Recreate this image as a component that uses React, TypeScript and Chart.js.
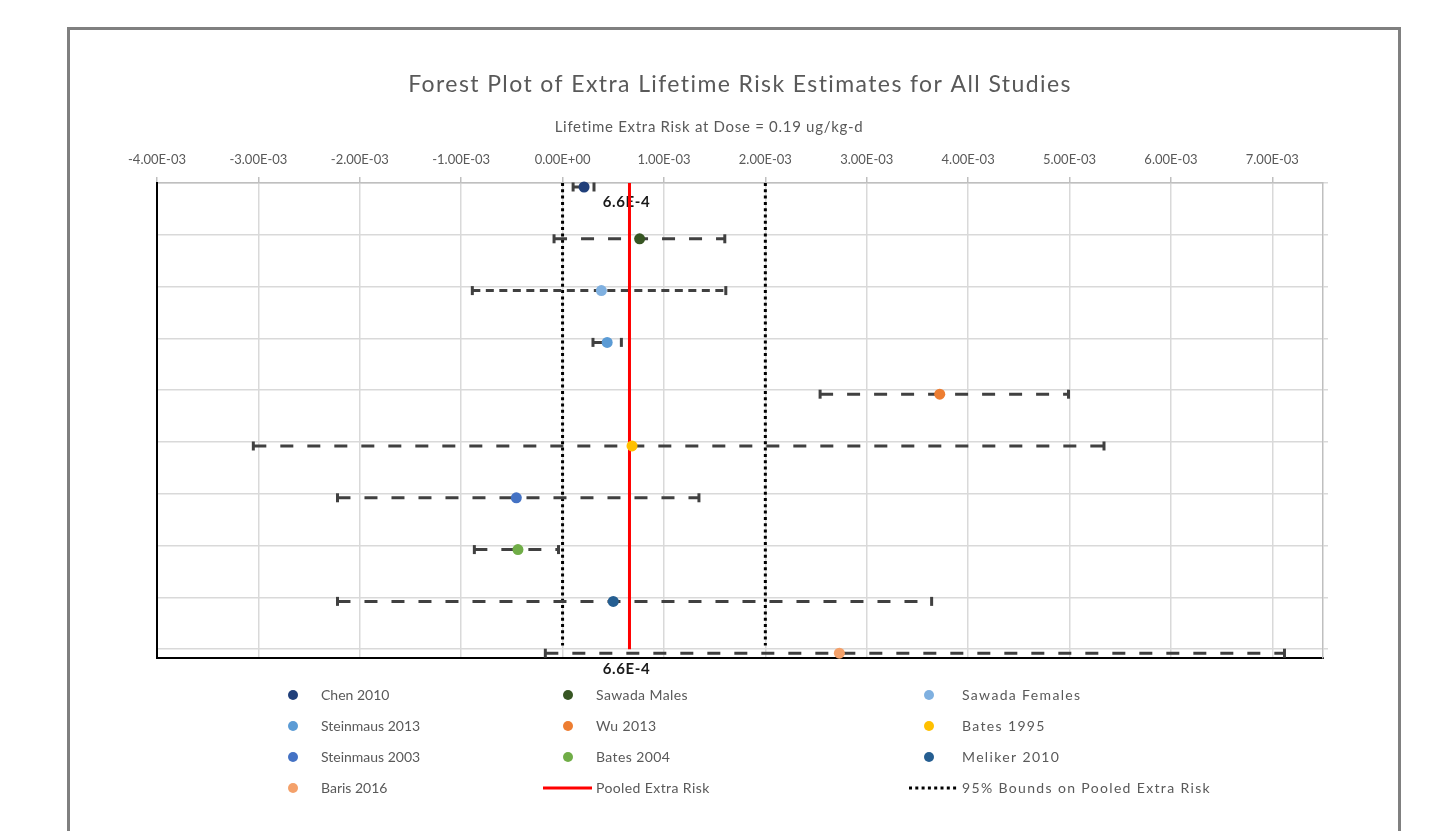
import React, { useEffect, useRef } from 'react';
import { Chart, registerables } from 'chart.js';

Chart.register(...registerables);

const chartTitle = 'Forest Plot of Extra Lifetime Risk Estimates for All Studies';
const axisTitle = 'Lifetime Extra Risk at Dose = 0.19 ug/kg-d';

const studies = [
  'Chen 2010',
  'Sawada Males',
  'Sawada Females',
  'Steinmaus 2013',
  'Wu 2013',
  'Bates 1995',
  'Steinmaus 2003',
  'Bates 2004',
  'Meliker 2010',
  'Baris 2016',
];
const estimates = [0.000212, 0.00076, 0.000383, 0.00044, 0.00372, 0.000685, -0.000456, -0.00044, 0.0005, 0.00273];
const lowerCI = [0.000104, -0.000084, -0.00089, 0.0003, 0.00254, -0.00305, -0.00222, -0.00087, -0.00222, -0.00017];
const upperCI = [0.00031, 0.0016, 0.00161, 0.00058, 0.00499, 0.00534, 0.001345, -0.00004, 0.00364, 0.00712];

const studyColors = [
  '#203f7a',
  '#375623',
  '#7fb0e0',
  '#5b9bd5',
  '#ed7d31',
  '#ffc000',
  '#4472c4',
  '#70ad47',
  '#255e91',
  '#f4a16a',
];

const pooledEstimate = 0.00066;
const pooledText = '6.6E-4';
const pooledName = 'Pooled Extra Risk';
const pooledBounds = [0.0, 0.002];
const boundsName = '95% Bounds on Pooled Extra Risk';

const xTickValues = [-0.004, -0.003, -0.002, -0.001, 0, 0.001, 0.002, 0.003, 0.004, 0.005, 0.006, 0.007];
const xTickLabels = [
  '-4.00E-03', '-3.00E-03', '-2.00E-03', '-1.00E-03', '0.00E+00', '1.00E-03',
  '2.00E-03', '3.00E-03', '4.00E-03', '5.00E-03', '6.00E-03', '7.00E-03',
];

// layout / style constants
const X_MIN = -0.004;
const X_MAX = 0.0075;
const Y_MIN = -0.077;
const Y_MAX = 9.093;
const GRID_COLOR = '#d9d9d9';
const TEXT_COLOR = '#595959';
const FONT = 'Lato, "Open Sans", sans-serif';
const BAR_COLOR = '#404040';

const gridRows = studies.map((_, i) => i + Y_MIN);
const lineTop = Y_MIN;
const lineBottom = studies.length - 1 + Y_MIN;

const legendRowsY = [695, 726, 757, 788];
const legendMarkerX = [293, 568, 929];
const legendTextX = [321, 596, 962];
const legendSpacing = [0, 0.4, 1.35];

function drawText(ctx: any, text: string, x: number, y: number, font: string, spacing: number, align: string) {
  ctx.font = font;
  ctx.textAlign = align;
  ctx.textBaseline = 'middle';
  if ('letterSpacing' in ctx) {
    ctx.letterSpacing = `${spacing}px`;
    ctx.fillText(text, x, y);
    ctx.letterSpacing = '0px';
  } else {
    ctx.fillText(text, x, y);
  }
}

const textPlugin = {
  id: 'textPlugin',
  beforeDatasetsDraw(chart: any) {
    const { ctx, chartArea, scales } = chart;
    const px = scales.x.getPixelForValue(pooledEstimate) - 3;
    ctx.save();
    ctx.fillStyle = '#1a1a1a';
    const f = `bold 15px ${FONT}`;
    drawText(ctx, pooledText, px, scales.y.getPixelForValue(0.29), f, 0.6, 'center');
    drawText(ctx, pooledText, px, chartArea.bottom + 11, f, 0.6, 'center');
    ctx.restore();
  },
  afterDraw(chart: any) {
    const { ctx, chartArea } = chart;
    const cx = (chartArea.left + chartArea.right) / 2;
    ctx.save();
    ctx.fillStyle = TEXT_COLOR;
    drawText(ctx, chartTitle, cx, 85, `23px ${FONT}`, 1.4, 'center');
    drawText(ctx, axisTitle, cx - 31, 127, `15px ${FONT}`, 0.7, 'center');

    // legend (3 columns)
    const items = [
      ...studies.map((s, i) => ({ label: s, kind: 'dot', color: studyColors[i] })),
      { label: pooledName, kind: 'line', color: '#ff0000' },
      { label: boundsName, kind: 'dots', color: '#000000' },
    ];
    items.forEach((it, k) => {
      const row = Math.floor(k / 3);
      const col = k % 3;
      const y = legendRowsY[row];
      const mx = legendMarkerX[col];
      const tx = legendTextX[col];
      if (it.kind === 'dot') {
        ctx.beginPath();
        ctx.fillStyle = it.color;
        ctx.arc(mx, y, 5, 0, Math.PI * 2);
        ctx.fill();
      } else {
        ctx.beginPath();
        ctx.strokeStyle = it.color;
        ctx.lineWidth = 3;
        ctx.setLineDash(it.kind === 'dots' ? [3, 3.3] : []);
        ctx.moveTo(tx - 53, y);
        ctx.lineTo(tx - 4, y);
        ctx.stroke();
        ctx.setLineDash([]);
      }
      ctx.fillStyle = TEXT_COLOR;
      drawText(ctx, it.label, tx, y, `14px ${FONT}`, legendSpacing[col], 'left');
    });
    ctx.restore();
  },
};

export default function App() {
  const canvasRef = useRef<HTMLCanvasElement | null>(null);

  useEffect(() => {
    if (!canvasRef.current) return;
    const datasets: any[] = [];
    studies.forEach((name, i) => {
      datasets.push({
        label: name,
        data: [{ x: estimates[i], y: i }],
        pointRadius: 5.5,
        pointHoverRadius: 5.5,
        pointBackgroundColor: studyColors[i],
        pointBorderColor: studyColors[i],
        pointBorderWidth: 0,
        order: 0,
        clip: false,
      });
    });
    studies.forEach((name, i) => {
      datasets.push({
        label: name + ' CI',
        data: [
          { x: lowerCI[i], y: i },
          { x: upperCI[i], y: i },
        ],
        showLine: true,
        borderColor: BAR_COLOR,
        borderWidth: 3,
        borderDash: name === 'Sawada Females' ? [8, 5.5] : [13, 14],
        pointStyle: 'line',
        pointRotation: 90,
        pointRadius: 4.5,
        pointHoverRadius: 4.5,
        pointBorderWidth: 3,
        pointBorderColor: BAR_COLOR,
        pointBackgroundColor: BAR_COLOR,
        order: 2,
        clip: false,
      });
    });
    datasets.push({
      label: pooledName,
      data: [
        { x: pooledEstimate, y: lineTop },
        { x: pooledEstimate, y: lineBottom },
      ],
      showLine: true,
      borderColor: '#ff0000',
      borderWidth: 3,
      pointRadius: 0,
      order: 1,
    });
    pooledBounds.forEach((b) => {
      datasets.push({
        label: boundsName,
        data: [
          { x: b, y: lineTop },
          { x: b, y: lineBottom - 0.07 },
        ],
        showLine: true,
        borderColor: '#000000',
        borderWidth: 3,
        borderDash: [3, 3.3],
        pointRadius: 0,
        order: 3,
      });
    });

    const chart = new Chart(canvasRef.current, {
      type: 'scatter',
      data: { datasets },
      options: {
        animation: false,
        responsive: false,
        devicePixelRatio: 1,
        events: [],
        layout: { padding: { left: 117, right: 67, top: 143, bottom: 153 } },
        plugins: {
          legend: { display: false },
          tooltip: { enabled: false },
          title: { display: false },
        },
        scales: {
          x: {
            type: 'linear',
            position: 'top',
            min: X_MIN,
            max: X_MAX,
            afterBuildTicks: (s: any) => {
              s.ticks = xTickValues.map((v) => ({ value: v }));
            },
            afterFit: (s: any) => {
              s.height = 40;
            },
            ticks: {
              callback: (_v: any, idx: number) => xTickLabels[idx],
              color: TEXT_COLOR,
              font: { family: FONT, size: 13 },
              padding: 9,
              maxRotation: 0,
              autoSkip: false,
            },
            grid: { color: GRID_COLOR, lineWidth: 1.5, tickLength: 6, tickColor: '#bfbfbf', drawTicks: true },
            border: { color: '#bfbfbf', width: 1.5 },
          },
          x2: {
            type: 'linear',
            position: 'bottom',
            min: 0,
            max: 1,
            ticks: { display: false },
            grid: { display: false, drawTicks: false },
            border: { color: '#000000', width: 2 },
            afterFit: (s: any) => {
              s.height = 20;
            },
          },
          y: {
            type: 'linear',
            position: 'left',
            min: Y_MIN,
            max: Y_MAX,
            reverse: true,
            afterBuildTicks: (s: any) => {
              s.ticks = gridRows.map((v) => ({ value: v }));
            },
            afterFit: (s: any) => {
              s.width = 40;
            },
            ticks: { display: false },
            grid: { color: GRID_COLOR, lineWidth: 1.5, drawTicks: false },
            border: { color: '#000000', width: 2 },
          },
          y2: {
            type: 'linear',
            position: 'right',
            min: Y_MIN,
            max: Y_MAX,
            reverse: true,
            afterBuildTicks: (s: any) => {
              s.ticks = gridRows.map((v) => ({ value: v }));
            },
            afterFit: (s: any) => {
              s.width = 40;
            },
            ticks: { display: false },
            grid: { color: GRID_COLOR, tickColor: GRID_COLOR, lineWidth: 1.5, drawOnChartArea: false, drawTicks: true, tickLength: 5 },
            border: { color: '#bfbfbf', width: 1.5 },
          },
        },
      } as any,
      plugins: [textPlugin as any],
    });
    return () => chart.destroy();
  }, []);

  return (
    <div style={{ position: 'fixed', left: 0, top: 0, width: 1430, height: 831, background: '#ffffff', overflow: 'hidden' }}>
      <div
        style={{
          position: 'absolute',
          left: 67,
          top: 27,
          width: 1334,
          height: 900,
          border: '3px solid #808080',
          boxSizing: 'border-box',
        }}
      />
      <canvas ref={canvasRef} width={1430} height={831} style={{ position: 'absolute', left: 0, top: 0 }} />
    </div>
  );
}
